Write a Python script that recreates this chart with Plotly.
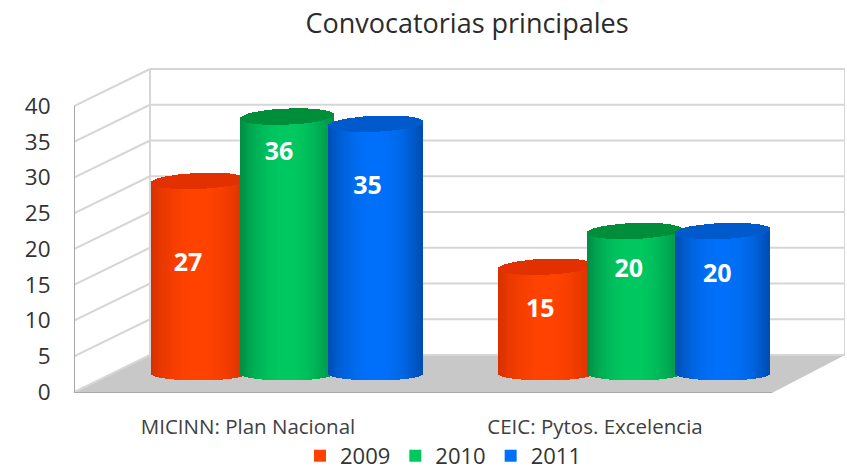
import math
import plotly.graph_objects as go

categories = ["MICINN: Plan Nacional", "CEIC: Pytos. Excelencia"]
years = ["2009", "2010", "2011"]
v2009 = [27, 15]
v2010 = [36, 20]
v2011 = [35, 20]
y_ticks = [0, 5, 10, 15, 20, 25, 30, 35, 40]

series = [v2009, v2010, v2011]
# side shade, centre shade, cap shade per series
colours = [((214, 48, 0), (255, 66, 0), (226, 48, 0)),
           ((0, 140, 68), (0, 200, 96), (0, 142, 58)),
           ((0, 76, 176), (0, 112, 250), (0, 90, 204))]

# label placement, in value units and category units
label_dy = [[-9.2, -3.7], [-2.7, -3.0], [-6.4, -3.8]]
label_dx = [[-0.03, -0.015], [-0.023, -0.015], [-0.023, -0.015]]

W, H = 847, 490
L, R, T, B = 74, 845, 68, 393
PX_Y = 7.15
PX_X = 347.0
Y0_PX = 392.0
CX0_PX = 287.0
ymin = (Y0_PX - B) / PX_Y
ymax = (Y0_PX - T) / PX_Y
xmin = (L - CX0_PX) / PX_X
xmax = (R - CX0_PX) / PX_X

DEPTH_X = 76 / PX_X
DEPTH_Y = 37 / PX_Y
BAR_BASE = 18 / PX_Y
OFFSET = 88.5 / PX_X
BAR_W = 94 / PX_X
CAP_B = 8 / PX_Y
CAP_TILT = 2 / PX_Y
N = 46


def mix(a, b, t):
    return "rgb(%d,%d,%d)" % tuple(round(a[k] + (b[k] - a[k]) * t) for k in range(3))


fig = go.Figure()
shapes = []
line = dict(color="#d6d6d6", width=2)

# floor and walls
floor_right = L + 698
fx = (floor_right - CX0_PX) / PX_X
shapes.append(dict(type="path", layer="below", line=dict(width=0), fillcolor="#c8c8c8",
                   path=f"M {xmin} {ymin} L {xmin+DEPTH_X} {DEPTH_Y} L {xmax} {DEPTH_Y} L {fx} {ymin} Z"))
for v in y_ticks:
    shapes.append(dict(type="line", layer="below", line=line,
                       x0=xmin, x1=xmin + DEPTH_X, y0=v, y1=v + DEPTH_Y))
    shapes.append(dict(type="line", layer="below", line=line,
                       x0=xmin + DEPTH_X, x1=xmax, y0=v + DEPTH_Y, y1=v + DEPTH_Y))
shapes.append(dict(type="line", layer="below", line=line, x0=xmin + DEPTH_X, x1=xmin + DEPTH_X,
                   y0=DEPTH_Y, y1=y_ticks[-1] + DEPTH_Y))
shapes.append(dict(type="line", layer="below", line=line, x0=xmax, x1=xmax,
                   y0=DEPTH_Y, y1=y_ticks[-1] + DEPTH_Y))
edge = dict(color="#a8a8a8", width=2)
shapes.append(dict(type="line", layer="below", line=edge, x0=xmin, x1=xmin, y0=ymin, y1=y_ticks[-1]))
shapes.append(dict(type="line", layer="below", line=edge, x0=xmin, x1=fx, y0=ymin, y1=ymin))

label_x, label_y, label_t = [], [], []
for s, values in enumerate(series):
    side, mid, capc = colours[s]
    centres = [g + (s - 1) * OFFSET for g in range(len(categories))]
    # solid body: carries the legend entry
    fig.add_trace(go.Bar(x=centres, y=values, base=[BAR_BASE] * len(values), width=BAR_W * 0.9,
                         name=years[s], marker=dict(color=mix(mid, mid, 0), line=dict(width=0)),
                         hoverinfo="skip"))
    xs, ys, bases, cols = [], [], [], []
    step = BAR_W / N
    for g, v in enumerate(values):
        cx = centres[g]
        # body strips, rounded at the bottom
        for i in range(N):
            u = -1 + (2 * i + 1) / N
            arc = math.sqrt(max(0.0, 1 - u * u))
            shade = 1 - abs(u) ** 2.2
            xs.append(cx + u * BAR_W / 2)
            bases.append(BAR_BASE - CAP_B * 0.8 * arc)
            ys.append(v + CAP_B * 0.8 * arc + u * CAP_TILT)
            cols.append(mix(side, mid, shade))
        # darker top cap
        for i in range(N):
            u = -1 + (2 * i + 1) / N
            arc = math.sqrt(max(0.0, 1 - u * u))
            xs.append(cx + u * BAR_W / 2)
            bases.append(BAR_BASE + v - CAP_B * arc + u * CAP_TILT)
            ys.append(2 * CAP_B * arc)
            cols.append(mix(capc, capc, 0))
        label_x.append(cx + label_dx[s][g])
        label_y.append(v + label_dy[s][g])
        label_t.append(str(v))
    fig.add_trace(go.Bar(x=xs, y=ys, base=bases, width=step * 1.35, showlegend=False,
                         marker=dict(color=cols, line=dict(width=0)), hoverinfo="skip"))

fig.add_trace(go.Scatter(x=label_x, y=label_y, text=label_t, mode="text", showlegend=False,
                         textfont=dict(color="white", size=25, family="Open Sans", weight="bold"),
                         textposition="middle center", hoverinfo="skip", cliponaxis=False))

font = "Open Sans"
fig.update_layout(
    width=W, height=H, autosize=False,
    margin=dict(l=L, r=W - R, t=T, b=H - B),
    paper_bgcolor="white", plot_bgcolor="white",
    barmode="overlay", bargap=0, shapes=shapes,
    title=dict(text="Convocatorias principales", x=467 / W, xanchor="center", y=1 - 24 / H,
               yanchor="middle", font=dict(family=font, size=27, color="#2b2b2b")),
    xaxis=dict(range=[xmin, xmax], showgrid=False, zeroline=False, showline=False,
               tickmode="array", tickvals=[g - 39 / PX_X for g in range(len(categories))],
               ticktext=categories, ticks="outside", ticklen=15, tickcolor="rgba(0,0,0,0)",
               tickfont=dict(family=font, size=20.5, color="#404040")),
    yaxis=dict(range=[ymin, ymax], showgrid=False, zeroline=False, showline=False,
               tickmode="array", tickvals=y_ticks, ticktext=[str(v) for v in y_ticks],
               ticks="outside", ticklen=18, tickcolor="rgba(0,0,0,0)",
               tickfont=dict(family=font, size=22.5, color="#333333")),
    legend=dict(orientation="h", x=(443 - L) / (R - L), xanchor="center", y=-0.129, yanchor="top",
                font=dict(family=font, size=22, color="#333333"), itemwidth=30,
                bgcolor="rgba(0,0,0,0)"),
)
fig.write_html("out.html", config=dict(displayModeBar=False),
               post_script="document.body.style.margin='0';document.documentElement.style.overflow='hidden';")
